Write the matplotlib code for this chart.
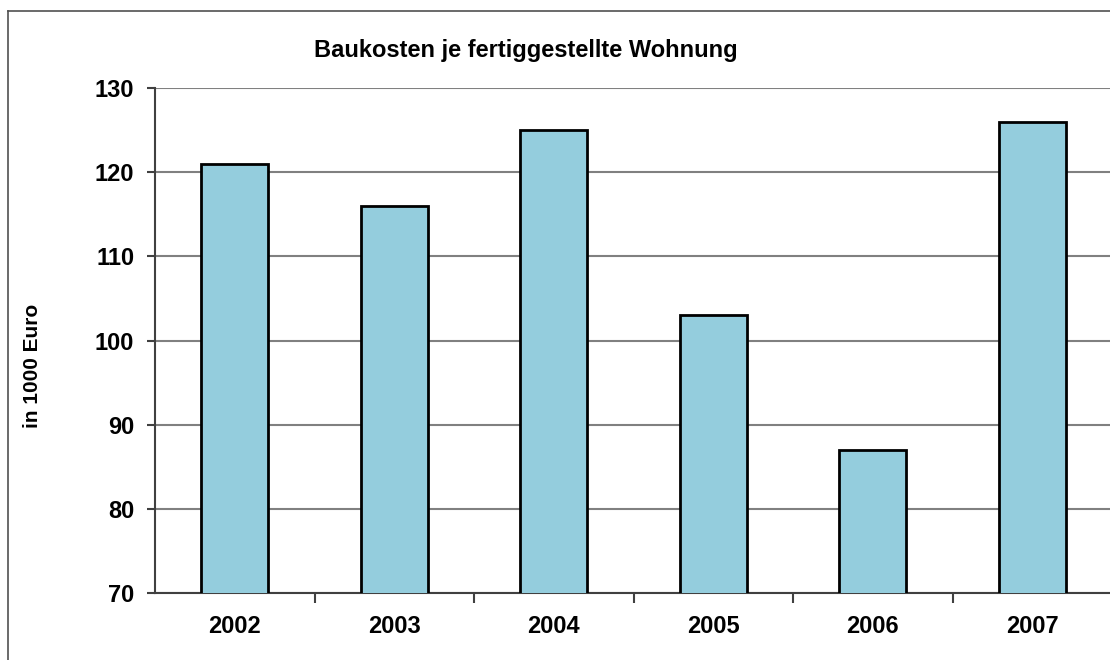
import matplotlib.pyplot as plt
from matplotlib.lines import Line2D

# Daten
jahre = ['2002', '2003', '2004', '2005', '2006', '2007']
baukosten = [121, 116, 125, 103, 87, 126]
y_ticks = [70, 80, 90, 100, 110, 120, 130]

plt.rcParams['font.family'] = ['Liberation Sans', 'DejaVu Sans']
plt.rcParams['font.weight'] = 'bold'

fig = plt.figure(figsize=(11.1, 6.6), dpi=100)
# Achsenbereich (rechts abgeschnitten wie im Original)
ax = fig.add_axes([155 / 1110, 1 - 593 / 660, 957 / 1110, 505 / 660])

x = range(len(jahre))
ax.bar(x, baukosten, width=0.42, color='#94CDDD', edgecolor='black',
       linewidth=2, zorder=3)

ax.set_ylim(70, 130)
ax.set_xlim(-0.5, len(jahre) - 0.5)
ax.set_yticks(y_ticks)
ax.set_yticklabels([str(t) for t in y_ticks], fontsize=17, fontweight='bold')
ax.set_xticks(list(x))
ax.set_xticklabels(jahre, fontsize=17, fontweight='bold')
ax.tick_params(axis='x', length=0, pad=16)
ax.tick_params(axis='y', length=6, width=1.5, color='#404040', pad=9)

# Trennstriche zwischen den Kategorien
ax.set_xticks([i + 0.5 for i in range(len(jahre) - 1)], minor=True)
ax.tick_params(axis='x', which='minor', length=7, width=1.5, color='#404040')

ax.yaxis.grid(True, color='#808080', linewidth=1.5, zorder=0)
ax.set_axisbelow(True)
for s in ['top', 'right']:
    ax.spines[s].set_visible(False)
for s in ['left', 'bottom']:
    ax.spines[s].set_color('#404040')
    ax.spines[s].set_linewidth(1.5)

fig.text(33 / 1110, 1 - 366 / 660, 'in 1000 Euro', rotation=90,
         ha='center', va='center', fontsize=15, fontweight='bold')

fig.text(526 / 1110, 1 - 50 / 660, 'Baukosten je fertiggestellte Wohnung',
         ha='center', va='center', fontsize=17, fontweight='bold')

# Rahmen des Diagramms
fig.add_artist(Line2D([8 / 1110, 8 / 1110], [0, 1 - 10.5 / 660],
                      transform=fig.transFigure, color='#505050', linewidth=1.2))
fig.add_artist(Line2D([8 / 1110, 1], [1 - 10.5 / 660, 1 - 10.5 / 660],
                      transform=fig.transFigure, color='#505050', linewidth=1.2))

fig.savefig('out.png', dpi=100)
